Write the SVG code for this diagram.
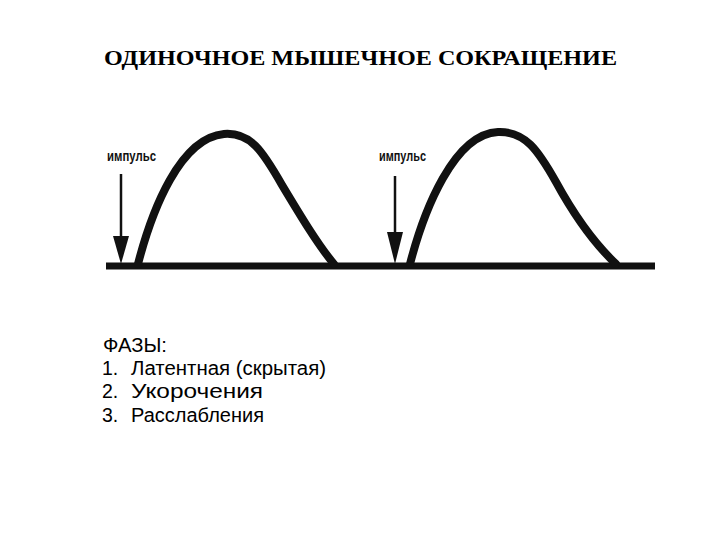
<svg xmlns="http://www.w3.org/2000/svg" width="720" height="540" viewBox="0 0 720 540">
<defs>
<style>
.title{font-family:"Liberation Serif","Times New Roman",serif;font-weight:bold;font-size:21px;fill:#000}
.lbl{font-family:"Liberation Sans",Arial,sans-serif;font-weight:bold;font-size:15px;fill:#111}
.ph{font-family:"Liberation Sans",Arial,sans-serif;font-size:19.5px;fill:#000}
.curve{fill:none;stroke:#111;stroke-width:8;stroke-linecap:round;stroke-linejoin:round}
.base{stroke:#111;stroke-width:7}
.shaft{stroke:#111;stroke-width:2.5}
</style>
</defs>
<rect width="720" height="540" fill="#fff"/>
<text class="title" x="104" y="65" textLength="513" lengthAdjust="spacingAndGlyphs">ОДИНОЧНОЕ МЫШЕЧНОЕ СОКРАЩЕНИЕ</text>
<g id="connectors">
<line class="base" x1="106" y1="266" x2="655" y2="266"/>
</g>
<g id="twitch1">
<path class="curve" d="M138,264 C152,210 180,138 224,134 C250,132 262,150 282,185 C300,215 318,245 334,264"/>
</g>
<g id="impulse1">
<text class="lbl" x="107" y="161" textLength="49" lengthAdjust="spacingAndGlyphs">импульс</text>
<line class="shaft" x1="121" y1="174" x2="121" y2="240"/>
<path d="M113,236 L129,236 L121,264 Z" fill="#111"/>
</g>
<g id="twitch2">
<path class="curve" d="M410,264 C424,210 454,134 498,132 C525,131 538,150 556,182 C574,215 596,245 616,264"/>
</g>
<g id="impulse2">
<text class="lbl" x="379" y="161" textLength="47" lengthAdjust="spacingAndGlyphs">импульс</text>
<line class="shaft" x1="395" y1="176" x2="395" y2="236"/>
<path d="M387,232 L403,232 L395,264 Z" fill="#111"/>
</g>
<g id="phases">
<text class="ph" x="103" y="352" textLength="64" lengthAdjust="spacingAndGlyphs">ФАЗЫ:</text>
<text class="ph" x="102" y="375">1.</text><text class="ph" x="131" y="375" textLength="195" lengthAdjust="spacingAndGlyphs">Латентная (скрытая)</text>
<text class="ph" x="102" y="398">2.</text><text class="ph" x="131" y="398" textLength="132" lengthAdjust="spacingAndGlyphs">Укорочения</text>
<text class="ph" x="102" y="422">3.</text><text class="ph" x="131" y="422" textLength="133" lengthAdjust="spacingAndGlyphs">Расслабления</text>
</g>
</svg>
